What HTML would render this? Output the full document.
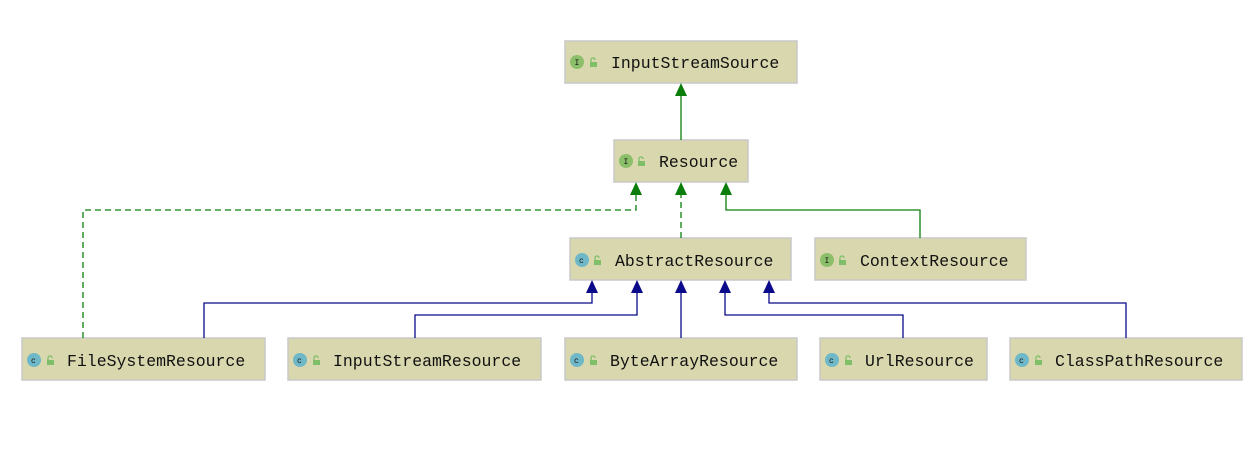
<!DOCTYPE html>
<html><head><style>
html,body{margin:0;padding:0;background:#fff;}
svg text{font-family:"Liberation Mono","DejaVu Sans Mono",monospace;font-size:16.5px;fill:#111;}
</style></head><body>
<svg width="1245" height="445" xmlns="http://www.w3.org/2000/svg">
<defs>
<g id="lock"><rect x="0" y="3" width="7" height="5" fill="#7fbf6a"/><path d="M1 3 V1 Q1 -1 3 -1 Q5 -1 5 1" stroke="#7fbf6a" stroke-width="1.3" fill="none"/></g>
</defs>
<g fill="#d9d7ae" stroke="#c8c8c8" stroke-width="1.5">
<rect x="565" y="41" width="232" height="42"/>
<rect x="614" y="140" width="134" height="42"/>
<rect x="570" y="238" width="221" height="42"/>
<rect x="815" y="238" width="211" height="42"/>
<rect x="22" y="338" width="243" height="42"/>
<rect x="288" y="338" width="253" height="42"/>
<rect x="565" y="338" width="232" height="42"/>
<rect x="820" y="338" width="167" height="42"/>
<rect x="1010" y="338" width="232" height="42"/>
</g>
<g stroke="#0a800a" stroke-width="1.3" fill="none">
<line x1="681" y1="95" x2="681" y2="140"/>
<path d="M83 338 V210 H636 V194" stroke-dasharray="6,4"/>
<line x1="681" y1="238" x2="681" y2="194" stroke-dasharray="6,4"/>
<path d="M920 238 V210 H726 V194"/>
</g>
<g fill="#0a7d0a">
<polygon points="681,83 675,96 687,96"/>
<polygon points="636,182 630,195 642,195"/>
<polygon points="681,182 675,195 687,195"/>
<polygon points="726,182 720,195 732,195"/>
</g>
<g stroke="#0a0a8a" stroke-width="1.3" fill="none">
<path d="M204 338 V303 H592 V292"/>
<path d="M415 338 V315 H637 V292"/>
<path d="M681 338 V292"/>
<path d="M903 338 V315 H725 V292"/>
<path d="M1126 338 V303 H769 V292"/>
</g>
<g fill="#0a0a8a">
<polygon points="592,280 586,293 598,293"/>
<polygon points="637,280 631,293 643,293"/>
<polygon points="681,280 675,293 687,293"/>
<polygon points="725,280 719,293 731,293"/>
<polygon points="769,280 763,293 775,293"/>
</g>
<g>
<circle cx="577" cy="62" r="7" fill="#8cbf6a"/><use href="#lock" x="590" y="59"/>
<circle cx="626" cy="161" r="7" fill="#8cbf6a"/><use href="#lock" x="638" y="158"/>
<circle cx="582" cy="260" r="7" fill="#6fb8c8"/><use href="#lock" x="594" y="257"/>
<circle cx="827" cy="260" r="7" fill="#8cbf6a"/><use href="#lock" x="839" y="257"/>
<circle cx="34" cy="360" r="7" fill="#6fb8c8"/><use href="#lock" x="47" y="357"/>
<circle cx="300" cy="360" r="7" fill="#6fb8c8"/><use href="#lock" x="313" y="357"/>
<circle cx="577" cy="360" r="7" fill="#6fb8c8"/><use href="#lock" x="590" y="357"/>
<circle cx="832" cy="360" r="7" fill="#6fb8c8"/><use href="#lock" x="845" y="357"/>
<circle cx="1022" cy="360" r="7" fill="#6fb8c8"/><use href="#lock" x="1035" y="357"/>
</g>
<g fill="#333">
<text x="574.5" y="65" style="font-size:8px">I</text>
<text x="623.5" y="164" style="font-size:8px">I</text>
<text x="579" y="263" style="font-size:8px">c</text>
<text x="824.5" y="263" style="font-size:8px">I</text>
<text x="31" y="363" style="font-size:8px">c</text>
<text x="297" y="363" style="font-size:8px">c</text>
<text x="574" y="363" style="font-size:8px">c</text>
<text x="829" y="363" style="font-size:8px">c</text>
<text x="1019" y="363" style="font-size:8px">c</text>
</g>
<text x="611" y="68">InputStreamSource</text>
<text x="659" y="167">Resource</text>
<text x="615" y="266">AbstractResource</text>
<text x="860" y="266">ContextResource</text>
<text x="67" y="366">FileSystemResource</text>
<text x="333" y="366">InputStreamResource</text>
<text x="610" y="366">ByteArrayResource</text>
<text x="865" y="366">UrlResource</text>
<text x="1055" y="366">ClassPathResource</text>
</svg>
</body></html>
